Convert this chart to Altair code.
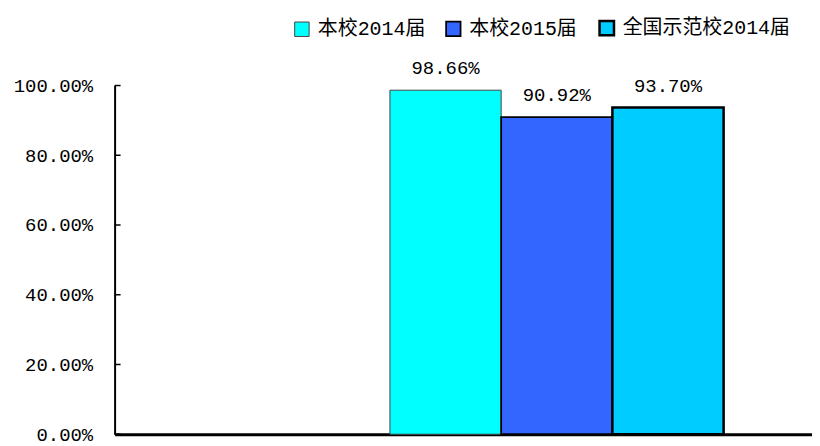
import altair as alt
import pandas as pd

categories = ["总体"]
series = ["本校2014届", "本校2015届", "全国示范校2014届"]
values = [0.9866, 0.9092, 0.9370]
fill_colors = ["#00FFFF", "#3366FF", "#00CCFF"]
stroke_colors = ["#444444", "#000000", "#000000"]
y_ticks = [0.0, 0.2, 0.4, 0.6, 0.8, 1.0]

FONT = "Liberation Mono, Noto Sans CJK SC"

df = pd.DataFrame({
    "cat": [categories[0]] * len(series),
    "series": series,
    "value": values,
})
tick_df = pd.DataFrame({"v": y_ticks})

x_enc = alt.X(
    "cat:N",
    scale=alt.Scale(paddingInner=0, paddingOuter=0.545, align=0.757),
    axis=alt.Axis(labels=False, ticks=False, title=None, grid=False,
                  domainColor="black", domainWidth=3),
)
xo_enc = alt.XOffset("series:N", sort=series, scale=alt.Scale(domain=series, paddingInner=0, paddingOuter=0))
y_enc = alt.Y(
    "value:Q",
    scale=alt.Scale(domain=[0, 1], nice=False),
    axis=alt.Axis(values=y_ticks, format=".2%", title=None, grid=False, ticks=False,
                  domainColor="black", domainWidth=2, labelPadding=22,
                  labelFontSize=19, labelColor="black", labelFont=FONT),
)

base = alt.Chart(df)

bars = base.mark_bar().encode(
    x=x_enc,
    xOffset=xo_enc,
    y=y_enc,
    fill=alt.Fill("series:N", sort=series, scale=alt.Scale(domain=series, range=fill_colors),
                  legend=alt.Legend(title=None, orient="none", direction="horizontal",
                                    legendX=178, legendY=-68, symbolType="square",
                                    symbolSize=210, symbolStrokeColor="black", symbolStrokeWidth=2,
                                    labelFontSize=20, labelFont=FONT, labelColor="black",
                                    labelLimit=400, labelOffset=6, columnPadding=16)),
    stroke=alt.Stroke("series:N", scale=alt.Scale(domain=series, range=stroke_colors), legend=None),
    strokeWidth=alt.StrokeWidth("series:N", scale=alt.Scale(domain=series, range=[1, 2.5, 2.5]), legend=None),
)

labels = base.mark_text(dy=-12, baseline="bottom", fontSize=19, font=FONT, color="black").encode(
    x=x_enc,
    xOffset=xo_enc,
    y=alt.Y("value:Q"),
    text=alt.Text("value:Q", format=".2%"),
)

ticks = alt.Chart(tick_df).mark_rule(color="black", strokeWidth=1.5).encode(
    y=alt.Y("v:Q"),
    x=alt.value(0),
    x2=alt.value(6),
)

chart = alt.layer(bars, labels, ticks).properties(
    width=700,
    height=350,
    background="white",
    autosize=alt.AutoSizeParams(type="none"),
    padding={"left": 107, "top": 77, "right": 0, "bottom": 11},
).configure_view(stroke="transparent", strokeWidth=0).configure_axis(grid=False)

chart.save("out.html", embed_options={"renderer": "svg", "actions": False})
